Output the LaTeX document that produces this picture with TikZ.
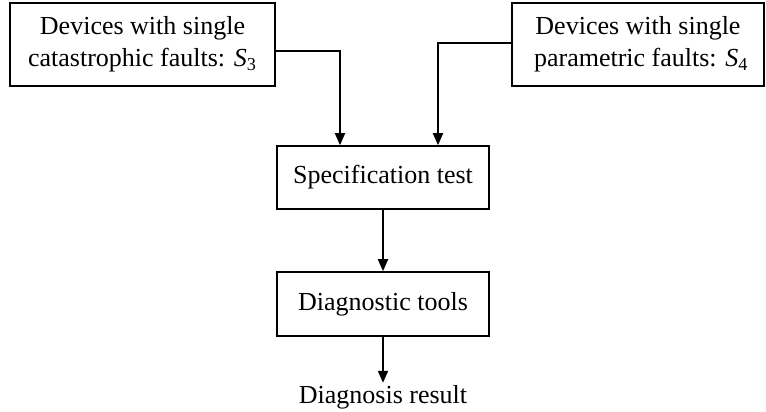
\documentclass[tikz,border=0pt]{standalone}
\usepackage{fontspec}
\setmainfont{Liberation Serif}
\usetikzlibrary{arrows.meta}
\tikzset{
  block/.style={draw, line width=0.8pt, align=center, inner sep=0pt,
    font=\fontsize{13}{16}\selectfont},
  flow/.style={-{Triangle[width=5pt,length=6pt]}, line width=1pt},
}
\begin{document}
\begin{tikzpicture}[x=0.5pt,y=-0.5pt]
    \useasboundingbox (0,0) rectangle (766,412);
    % input sets
    \node[block, minimum width=132.5pt, minimum height=41.5pt] (sthree) at (142.5,44.5)
        {Devices with single\\catastrophic faults: \textit{S}\textsubscript{3}};
    \node[block, minimum width=126pt, minimum height=41.5pt] (sfour) at (638,44.5)
        {Devices with single\\\ parametric faults: \textit{S}\textsubscript{4}};

    % test and diagnosis
    \node[block, minimum width=106pt, minimum height=31.5pt] (spec) at (383,177.5)
        {Specification test};
    \node[block, minimum width=106pt, minimum height=32pt] (diag) at (383,304)
        {Diagnostic tools};
    \node[font=\fontsize{13}{16}\selectfont, inner sep=1pt] (result) at (383,397)
        {Diagnosis result};

    % connectors
    \draw[flow] ([yshift=-3pt]sthree.east) -| ([xshift=-21.5pt]spec.north);
    \draw[flow] ([yshift=0.75pt]sfour.west) -| ([xshift=27.5pt]spec.north);
    \draw[flow] (spec) -- (diag);
    \draw[flow] (diag) -- (result);
\end{tikzpicture}
\end{document}
